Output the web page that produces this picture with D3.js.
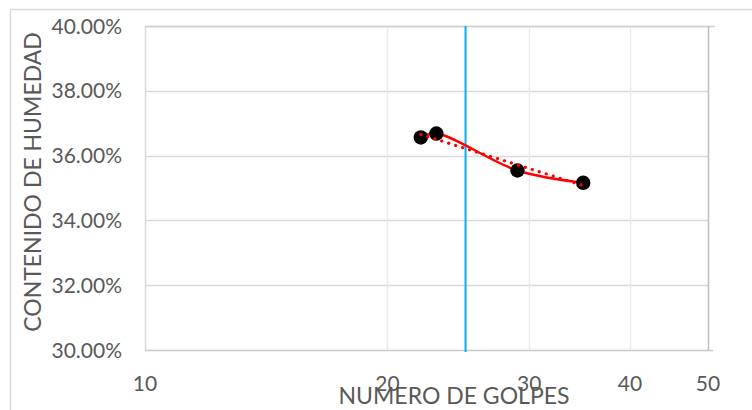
<!DOCTYPE html>
<html>
<head>
<meta charset="utf-8">
<script src="https://cdn.jsdelivr.net/npm/d3@7"></script>
<style>
  html, body { margin: 0; padding: 0; background: #fff; }
  svg { display: block; }
  text { font-family: Lato, "Open Sans", sans-serif; fill: #595959; }
</style>
</head>
<body>
<svg id="chart" width="752" height="410"></svg>
<script>
// Number of blows vs. moisture content (liquid limit test)
const golpes = [22, 23, 29, 35];
const humedad = [0.3656, 0.3668, 0.3554, 0.3516];
const golpesReferencia = 25;
const xTicks = [10, 20, 30, 40, 50];
const yTicks = [0.30, 0.32, 0.34, 0.36, 0.38, 0.40];
const xTitle = "NUMERO DE GOLPES";
const yTitle = "CONTENIDO DE HUMEDAD";

const svg = d3.select("#chart");
const plot = { left: 145, right: 708, top: 26, bottom: 350 };

const x = d3.scaleLog().domain([10, 50]).range([plot.left, plot.right]);
const y = d3.scaleLinear().domain([0.30, 0.40]).range([plot.bottom, plot.top]);

// chart area frame
svg.append("rect")
  .attr("x", 10.5).attr("y", 9.5)
  .attr("width", 800).attr("height", 500)
  .attr("fill", "none").attr("stroke", "#d9d9d9").attr("stroke-width", 1.5);

// horizontal gridlines
svg.append("g").selectAll("line").data(yTicks.slice(1)).join("line")
  .attr("x1", plot.left).attr("x2", plot.right)
  .attr("y1", d => Math.round(y(d)) + 0.5).attr("y2", d => Math.round(y(d)) + 0.5)
  .attr("stroke", "#d9d9d9").attr("stroke-width", 1.5);

// vertical gridlines
svg.append("g").selectAll("line").data(xTicks.slice(1, -1)).join("line")
  .attr("x1", d => Math.round(x(d)) + 0.5).attr("x2", d => Math.round(x(d)) + 0.5)
  .attr("y1", plot.top).attr("y2", plot.bottom)
  .attr("stroke", "#ebebeb").attr("stroke-width", 1.5);

// left edge
svg.append("line")
  .attr("x1", plot.left + 0.5).attr("x2", plot.left + 0.5)
  .attr("y1", plot.top).attr("y2", plot.bottom)
  .attr("stroke", "#d9d9d9").attr("stroke-width", 1.5);

// top edge with outer tick
svg.append("line")
  .attr("x1", plot.left).attr("x2", plot.right + 7)
  .attr("y1", plot.top + 0.5).attr("y2", plot.top + 0.5)
  .attr("stroke", "#d0d0d0").attr("stroke-width", 1.5);

// value axis line on the right
svg.append("line")
  .attr("x1", plot.right + 0.5).attr("x2", plot.right + 0.5)
  .attr("y1", plot.top).attr("y2", plot.bottom)
  .attr("stroke", "#bfbfbf").attr("stroke-width", 1.5);

// category axis line at the bottom
svg.append("line")
  .attr("x1", plot.left).attr("x2", plot.right + 5)
  .attr("y1", plot.bottom + 0.5).attr("y2", plot.bottom + 0.5)
  .attr("stroke", "#c8c8c8").attr("stroke-width", 1.5);

// y tick labels
const pct = d3.format(".2%");
svg.append("g").selectAll("text").data(yTicks).join("text")
  .attr("x", 122).attr("y", d => y(d) + 7.5)
  .attr("text-anchor", "end")
  .attr("font-size", 21)
  .text(d => pct(d));

// x tick labels
svg.append("g").selectAll("text").data(xTicks).join("text")
  .attr("x", d => x(d)).attr("y", 391)
  .attr("text-anchor", "middle")
  .attr("font-size", 21)
  .text(d => d);

// axis titles
svg.append("text")
  .attr("x", 454).attr("y", 404)
  .attr("text-anchor", "middle")
  .attr("font-size", 23)
  .text(xTitle);

svg.append("text")
  .attr("transform", `translate(41,${(plot.top + plot.bottom) / 2 - 6}) rotate(-90)`)
  .attr("text-anchor", "middle")
  .attr("font-size", 23)
  .text(yTitle);

// reference line at 25 blows
svg.append("line")
  .attr("x1", x(golpesReferencia)).attr("x2", x(golpesReferencia))
  .attr("y1", plot.top).attr("y2", plot.bottom + 2)
  .attr("stroke", "#00b0f0").attr("stroke-width", 2);

const pts = golpes.map((g, i) => [g, humedad[i]]);

// smoothed series line
const line = d3.line()
  .x(d => x(d[0])).y(d => y(d[1]))
  .curve(d3.curveCatmullRom.alpha(0.5));
svg.append("path")
  .datum(pts)
  .attr("d", line)
  .attr("fill", "none").attr("stroke", "#ff0000").attr("stroke-width", 2.5);

// markers
svg.append("g").selectAll("circle").data(pts).join("circle")
  .attr("cx", d => x(d[0])).attr("cy", d => y(d[1]))
  .attr("r", 7.2)
  .attr("fill", "#000");

// logarithmic trendline: w = a + b ln(N)
const lx = golpes.map(Math.log);
const mx = d3.mean(lx), my = d3.mean(humedad);
const b = d3.sum(lx, (v, i) => (v - mx) * (humedad[i] - my)) / d3.sum(lx, v => (v - mx) ** 2);
const a = my - b * mx;
const nMin = d3.min(golpes), nMax = d3.max(golpes);
svg.append("line")
  .attr("x1", x(nMin)).attr("y1", y(a + b * Math.log(nMin)))
  .attr("x2", x(nMax)).attr("y2", y(a + b * Math.log(nMax)))
  .attr("stroke", "#ff0000").attr("stroke-width", 3.2)
  .attr("stroke-linecap", "round")
  .attr("stroke-dasharray", "0.1 7.2");
</script>
</body>
</html>
